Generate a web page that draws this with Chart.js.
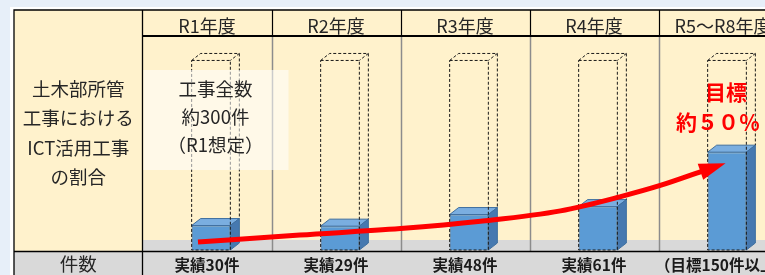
<!DOCTYPE html>
<html>
<head>
<meta charset="utf-8">
<script src="https://cdn.jsdelivr.net/npm/chart.js@4.4.0/dist/chart.umd.min.js"></script>
<style>
html, body { margin: 0; padding: 0; background: #e7eff9; overflow: hidden; }
#page { position: absolute; left: 10px; top: 7px; width: 800px; height: 300px; background: #fff; }
#wrap { position: absolute; left: 0; top: 0; width: 800px; height: 290px; }
</style>
</head>
<body>
<div id="page"></div>
<div id="wrap"><canvas id="chart"></canvas></div>
<script>
// column headers and count row
const years = ['R1年度', 'R2年度', 'R3年度', 'R4年度', 'R5～R8年度'];
const countLabels = ['実績30件', '実績29件', '実績48件', '実績61件', '（目標150件以上）'];
const counts = [30, 29, 48, 61, 150];
const totals = [300, 300, 300, 300, 300];

// red trend arrow (x in category units, last point = tip)
const arrowX = [-0.07, 0.72, 1.5, 2.12, 2.74, 3.2, 3.52, 3.84, 4.02];
const arrowY = [3, 14.5, 25, 37, 54, 77, 96, 119, 132];

const rowLabels = ['土木部所管', '工事における', 'ICT活用工事', 'の割合'];
const boxLines = ['工事全数', '約300件', '（R1想定）'];
const goalLines = ['目標', '約５０％'];

const JP = '"Noto Sans CJK JP", "Noto Sans", sans-serif';
const DX = 9, DY = 7;
const SHIFT = 4; // cubes sit a little right of the column centre

const tablePlugin = {
    id: 'table',
    beforeDraw(chart) {
        const {ctx, chartArea: a, scales: {x}} = chart;
        const L = 14, T = 10, R = 800, B = 290;
        const half = (x.getPixelForValue(1) - x.getPixelForValue(0)) / 2;
        ctx.save();
        ctx.fillStyle = '#fff2cc';
        ctx.fillRect(L, T, R - L, a.bottom + 1 - T);
        ctx.fillStyle = '#d9d9d9';
        ctx.fillRect(a.left, a.bottom - 10, R - a.left, 11);
        ctx.fillRect(L, a.bottom + 1, R - L, B - a.bottom);

        // column separators
        for (let i = 1; i < years.length; i++) {
            const xb = Math.round(x.getPixelForValue(i) - half) + 0.5;
            ctx.strokeStyle = '#8c8c8c';
            ctx.lineWidth = 1.5;
            ctx.beginPath(); ctx.moveTo(xb, a.top); ctx.lineTo(xb, a.bottom + 1); ctx.stroke();
            ctx.strokeStyle = '#000';
            ctx.lineWidth = 1.2;
            ctx.beginPath(); ctx.moveTo(xb, T); ctx.lineTo(xb, a.top); ctx.stroke();
        }

        ctx.strokeStyle = '#000';
        ctx.lineWidth = 1.3;
        ctx.beginPath();
        ctx.moveTo(L, B); ctx.lineTo(L, T); ctx.lineTo(R, T);
        ctx.moveTo(a.left, T); ctx.lineTo(a.left, B);
        ctx.moveTo(L, a.bottom + 1.5); ctx.lineTo(R, a.bottom + 1.5);
        ctx.stroke();
        ctx.lineWidth = 2;
        ctx.beginPath(); ctx.moveTo(a.left, a.top); ctx.lineTo(R, a.top); ctx.stroke();

        // left column text
        ctx.fillStyle = '#262626';
        ctx.font = '18.5px ' + JP;
        ctx.textAlign = 'center';
        ctx.textBaseline = 'middle';
        const cx = (L + a.left) / 2;
        rowLabels.forEach((t, i) => ctx.fillText(t, cx, 89 + i * 29.3));
        ctx.fillText('件数', cx, 264);
        ctx.restore();
    },
    beforeDatasetDraw(chart, args) {
        if (args.index === 0 || args.index === 1) {
            chart.ctx.save();
            chart.ctx.translate(SHIFT, 0);
        }
    },
    afterDatasetDraw(chart, args) {
        const ctx = chart.ctx;
        if (args.index === 0) {
            // 3D faces of the count bars
            chart.getDatasetMeta(0).data.forEach(bar => {
                const l = bar.x - bar.width / 2, r = bar.x + bar.width / 2;
                ctx.save();
                ctx.strokeStyle = '#3f6f9f';
                ctx.lineWidth = 1;
                ctx.fillStyle = '#7aaee0';
                ctx.beginPath();
                ctx.moveTo(l, bar.y); ctx.lineTo(l + DX, bar.y - DY);
                ctx.lineTo(r + DX, bar.y - DY); ctx.lineTo(r, bar.y);
                ctx.closePath(); ctx.fill(); ctx.stroke();
                ctx.fillStyle = '#4679b0';
                ctx.beginPath();
                ctx.moveTo(r, bar.y); ctx.lineTo(r + DX, bar.y - DY);
                ctx.lineTo(r + DX, bar.base - DY); ctx.lineTo(r, bar.base);
                ctx.closePath(); ctx.fill(); ctx.stroke();
                ctx.restore();
            });
            ctx.restore();
        }
        if (args.index === 1) {
            // dashed outline boxes for the total
            const bars = chart.getDatasetMeta(0).data;
            chart.getDatasetMeta(1).data.forEach((box, i) => {
                const l = box.x - box.width / 2, r = box.x + box.width / 2;
                ctx.save();
                ctx.strokeStyle = '#1a1a1a';
                ctx.lineWidth = 1;
                ctx.setLineDash([3, 2]);
                ctx.strokeRect(l, box.y, r - l, box.base - box.y);
                ctx.beginPath();
                ctx.moveTo(l, box.y); ctx.lineTo(l + DX, box.y - DY);
                ctx.lineTo(r + DX, box.y - DY); ctx.lineTo(r, box.y);
                ctx.moveTo(r + DX, box.y - DY); ctx.lineTo(r + DX, bars[i].y - DY);
                ctx.stroke();
                ctx.restore();
            });
            ctx.restore();
        }
    },
    afterDatasetsDraw(chart) {
        const {ctx, chartArea: a, scales: {x2, y}} = chart;
        const n = arrowX.length;
        const bx = x2.getPixelForValue(arrowX[n - 2]), by = y.getPixelForValue(arrowY[n - 2]);
        const tx = x2.getPixelForValue(arrowX[n - 1]), ty = y.getPixelForValue(arrowY[n - 1]);
        const len = Math.hypot(tx - bx, ty - by);
        const ux = (tx - bx) / len, uy = (ty - by) / len;
        const w = 8.5;
        ctx.save();
        ctx.fillStyle = '#ff0000';
        ctx.beginPath();
        ctx.moveTo(tx, ty);
        ctx.lineTo(bx - ux * 2 - uy * w, by - uy * 2 + ux * w);
        ctx.lineTo(bx - ux * 2 + uy * w, by - uy * 2 - ux * w);
        ctx.closePath();
        ctx.fill();

        // note box over R1
        ctx.fillStyle = 'rgba(255,255,255,0.55)';
        ctx.fillRect(a.left + 1, 70, 145, 100);
        ctx.fillStyle = '#262626';
        ctx.font = '18.5px ' + JP;
        ctx.textAlign = 'center';
        ctx.textBaseline = 'middle';
        boxLines.forEach((t, i) => ctx.fillText(t, 215.5, 89 + i * 28));

        // goal text
        ctx.fillStyle = '#ff0000';
        ctx.font = 'bold 21px ' + JP;
        ctx.fillText(goalLines[0], 726, 92);
        ctx.textAlign = 'left';
        ctx.fillText(goalLines[1], 676, 122);
        ctx.restore();
    }
};

const ctx = document.getElementById('chart').getContext('2d');
new Chart(ctx, {
    data: {
        labels: years,
        datasets: [{
            type: 'bar',
            data: counts,
            base: -10,
            backgroundColor: '#5b9bd5',
            borderColor: '#3f6f9f',
            borderWidth: 1,
            barPercentage: 0.3,
            categoryPercentage: 1,
            grouped: false,
            order: 2
        },
        {
            type: 'bar',
            data: totals,
            base: -10,
            backgroundColor: 'rgba(0,0,0,0)',
            borderWidth: 0,
            barPercentage: 0.3,
            categoryPercentage: 1,
            grouped: false,
            order: 1
        },
        {
            type: 'line',
            xAxisID: 'x2',
            data: arrowX.slice(0, -1).map((v, i) => ({x: v, y: arrowY[i]})),
            borderColor: '#ff0000',
            borderWidth: 5,
            pointRadius: 0,
            cubicInterpolationMode: 'monotone',
            order: 0
        }]
    },
    options: {
        responsive: true,
        maintainAspectRatio: false,
        animation: false,
        events: [],
        layout: { padding: { left: 142.5, right: 12.5, top: 10, bottom: 0 } },
        plugins: { legend: { display: false }, tooltip: { enabled: false } },
        scales: {
            x: {
                position: 'bottom',
                offset: true,
                grid: { display: false, drawTicks: false },
                border: { display: false },
                ticks: {
                    padding: 6,
                    color: '#1a1a1a',
                    font: { family: JP, size: 15.5, weight: 'bold' },
                    maxRotation: 0,
                    autoSkip: false,
                    callback: (v, i) => countLabels[i]
                },
                afterFit: s => { s.height = 40; }
            },
            xt: {
                type: 'category',
                position: 'top',
                labels: years,
                offset: true,
                grid: { display: false, drawTicks: false },
                border: { display: false },
                ticks: {
                    padding: -1,
                    color: '#262626',
                    font: { family: JP, size: 18 },
                    maxRotation: 0,
                    autoSkip: false
                },
                afterFit: s => { s.height = 26; }
            },
            x2: { type: 'linear', min: -0.5, max: 4.5, display: false },
            y: { min: -10, max: 340, display: false }
        }
    },
    plugins: [tablePlugin]
});
</script>
</body>
</html>
